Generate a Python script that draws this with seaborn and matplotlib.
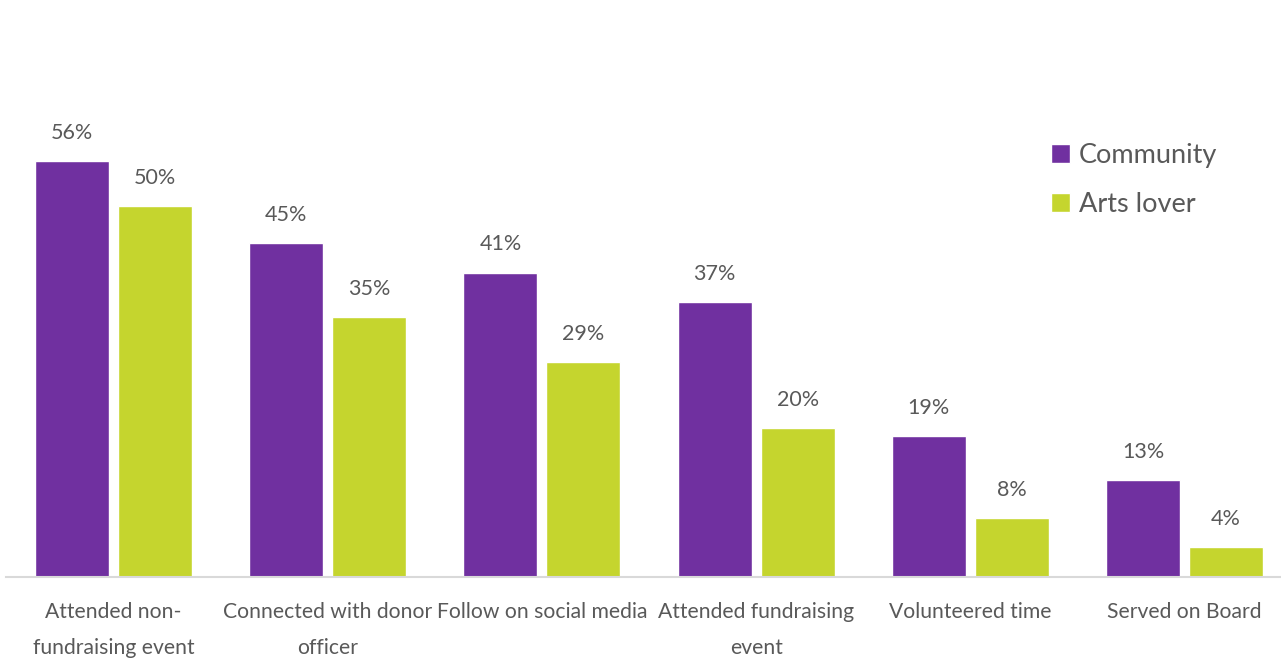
import matplotlib
matplotlib.use("Agg")
import matplotlib.pyplot as plt
import seaborn as sns
import pandas as pd

categories = [
    "Attended non-\nfundraising event",
    "Connected with donor\nofficer",
    "Follow on social media",
    "Attended fundraising\nevent",
    "Volunteered time",
    "Served on Board",
]
community = [56, 45, 41, 37, 19, 13]
arts_lover = [50, 35, 29, 20, 8, 4]
series_names = ["Community", "Arts lover"]
colors = ["#7030A0", "#C5D52E"]

df = pd.DataFrame({
    "category": categories * 2,
    "value": community + arts_lover,
    "series": [series_names[0]] * len(categories) + [series_names[1]] * len(categories),
})

sns.set_theme(style="white")
plt.rcParams["font.family"] = ["Lato", "DejaVu Sans"]
text_color = "#595959"

fig = plt.figure(figsize=(12.81, 6.59), dpi=100)
ax = fig.add_axes([6 / 1281, 1 - 577 / 659, 1275 / 1281, 577 / 659])

sns.barplot(data=df, x="category", y="value", hue="series", palette=colors,
            width=0.775, gap=0.108, ax=ax, saturation=1, legend=True)

for container in ax.containers:
    ax.bar_label(container, labels=[f"{v:.0f}%" for v in container.datavalues],
                 padding=13, fontsize=15.5, color=text_color)

ax.set_xlim(-0.502, 5.45)
ax.set_ylim(0, 77.7)
ax.set_xlabel("")
ax.set_ylabel("")
ax.set_yticks([])
for s in ["top", "right", "left"]:
    ax.spines[s].set_visible(False)
ax.spines["bottom"].set_color("#D9D9D9")
ax.spines["bottom"].set_linewidth(1.5)
ax.tick_params(axis="x", length=0, pad=18, labelsize=15.2, labelcolor=text_color)
for lbl in ax.get_xticklabels():
    lbl.set_linespacing(2.0)
    lbl.set_verticalalignment("top")

leg = ax.legend(loc="upper left", bbox_to_anchor=(1042 / 1281 - 6 / 1275, 1 - 129 / 577),
                frameon=False, fontsize=19.5, handlelength=0.7, handleheight=0.7,
                handletextpad=0.35, labelspacing=0.92, borderpad=0)
for t in leg.get_texts():
    t.set_color(text_color)

fig.savefig("out.png", dpi=100)
